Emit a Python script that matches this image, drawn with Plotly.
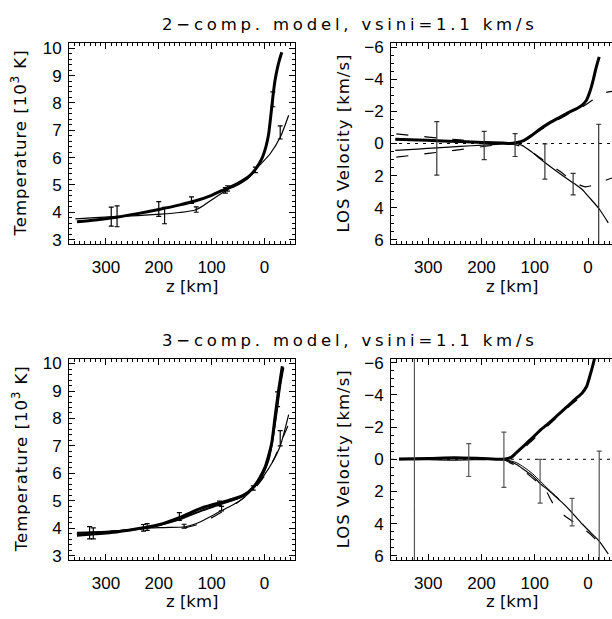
import plotly.graph_objects as go

# ---------------- data ----------------
# 2-comp model, temperature
z_t2_c1 = [355, 320, 280, 240, 200, 160, 130, 100, 75, 50, 30, 17, 5, -3, -8, -12, -16, -20, -25, -29, -33]
T_t2_c1 = [3.65, 3.72, 3.82, 3.95, 4.10, 4.27, 4.42, 4.62, 4.84, 5.06, 5.3, 5.57, 5.95, 6.4, 6.85, 7.5, 8.2, 8.8, 9.3, 9.6, 9.85]
z_t2_c2 = [358, 320, 286, 240, 197, 160, 131, 115, 100, 74, 50, 30, 21, 8, -11, -30, -46]
T_t2_c2 = [3.76, 3.8, 3.84, 3.88, 3.93, 3.99, 4.08, 4.25, 4.45, 4.78, 5.0, 5.25, 5.45, 5.74, 6.14, 6.74, 7.55]
z_t2_e1 = [279, 200, 138, 70, 17, -16]
T_t2_e1 = [3.85, 4.12, 4.44, 4.87, 5.55, 8.13]
d_t2_e1 = [0.38, 0.27, 0.12, 0.1, 0.1, 0.27]
z_t2_e2 = [290, 189, 129, 74, -30]
T_t2_e2 = [3.84, 3.88, 4.1, 4.8, 6.92]
d_t2_e2 = [0.35, 0.3, 0.1, 0.1, 0.24]

# 2-comp model, velocity
z_v2_c1 = [362, 320, 284, 240, 197, 160, 147, 135, 120, 104, 90, 73, 55, 36, 20, 11, 3, -1, -6, -10, -15, -21]
v_v2_c1 = [-0.27, -0.22, -0.17, -0.12, -0.07, -0.03, 0.0, -0.05, -0.2, -0.55, -0.9, -1.27, -1.6, -1.94, -2.2, -2.4, -2.7, -3.0, -3.5, -4.0, -4.7, -5.4]
z_v2_c2 = [362, 320, 284, 240, 197, 160, 140, 125, 104, 90, 73, 50, 26, 10, -1, -20, -38]
v_v2_c2 = [0.43, 0.35, 0.27, 0.18, 0.1, 0.03, 0.0, 0.1, 0.57, 0.95, 1.39, 1.95, 2.5, 2.9, 3.32, 4.04, 4.95]
z_v2_d1 = [360, 300, 240, 180, 150, 120, 100, 75, 50, 25, 5, -10, -20, -30, -45]
v_v2_d1 = [-0.6, -0.4, -0.22, -0.07, 0.0, -0.2, -0.6, -1.15, -1.6, -2.05, -2.4, -2.75, -3.0, -3.15, -3.25]
z_v2_d2 = [360, 300, 240, 180, 150, 120, 100, 75, 50, 30, 15, 5, -10, -25, -45]
v_v2_d2 = [0.85, 0.62, 0.38, 0.12, 0.0, 0.25, 0.65, 1.25, 1.8, 2.35, 2.6, 2.7, 2.6, 2.4, 2.15]
z_v2_e = [284, 195, 137, 81, 28, -20]
v_v2_e = [0.3, 0.12, 0.1, 1.12, 2.53, 2.6]
d_v2_e = [1.67, 0.88, 0.71, 1.1, 0.67, 3.8]

# 3-comp model, temperature
z_t3_c1 = [355, 320, 280, 229, 200, 160, 122, 100, 84, 59, 40, 21, 10, -1, -8, -14, -20, -26, -30, -34]
T_t3_c1 = [3.75, 3.8, 3.87, 4.02, 4.13, 4.4, 4.72, 4.85, 4.93, 5.07, 5.2, 5.49, 5.8, 6.21, 6.65, 7.12, 8.02, 8.9, 9.4, 9.9]
z_t3_c2 = [355, 300, 229, 160, 122, 84, 40, 10, -8, -20, -30, -36]
T_t3_c2 = [3.84, 3.88, 4.0, 4.33, 4.62, 4.88, 5.18, 5.75, 6.5, 7.8, 9.2, 9.85]
z_t3_c3 = [355, 300, 229, 190, 150, 122, 100, 84, 60, 40, 21, 0, -15, -30, -46]
T_t3_c3 = [3.83, 3.88, 4.0, 4.03, 4.06, 4.23, 4.45, 4.62, 4.85, 5.1, 5.45, 5.95, 6.4, 7.0, 8.14]
z_t3_d = [150, 128, 103, 80, 50, 20, 0, -20, -35, -45]
T_t3_d = [4.02, 4.13, 4.35, 4.6, 4.95, 5.42, 5.9, 6.6, 7.3, 7.75]
z_t3_e1 = [324, 222, 161, 85, 21, -25]
T_t3_e1 = [3.82, 4.05, 4.43, 4.91, 5.47, 8.7]
d_t3_e1 = [0.2, 0.12, 0.14, 0.08, 0.08, 0.27]
z_t3_e2 = [331, 229, 152, 81, -30]
T_t3_e2 = [3.84, 4.02, 4.08, 4.72, 7.28]
d_t3_e2 = [0.22, 0.12, 0.07, 0.08, 0.28]

# 3-comp model, velocity
z_v3_c1 = [355, 300, 250, 200, 160, 145, 135, 120, 104, 90, 73, 55, 42, 25, 11, 3, -1, -8, -14]
v_v3_c1 = [-0.02, -0.05, -0.1, -0.05, 0.0, -0.1, -0.4, -0.85, -1.34, -1.8, -2.26, -2.8, -3.19, -3.7, -4.12, -4.5, -4.9, -5.7, -6.5]
z_v3_c2 = [355, 300, 250, 200, 160, 135, 120, 104, 90, 73, 55, 42, 25, 11, -5, -20, -38]
v_v3_c2 = [0.02, 0.03, 0.05, 0.02, 0.0, 0.31, 0.65, 1.03, 1.5, 1.96, 2.5, 2.89, 3.5, 4.02, 4.55, 5.05, 5.88]
z_v3_c3 = [160, 135, 120, 104, 90, 73, 55]
v_v3_c3 = [0.0, 0.2, 0.5, 0.9, 1.35, 1.9, 2.45]
z_v3_d1 = [160, 135, 120, 104, 73, 42, 11, -1, -14]
v_v3_d1 = [0.0, -0.3, -0.7, -1.2, -2.15, -3.1, -4.0, -4.75, -6.5]
z_v3_d2 = [160, 130, 98, 80, 70, 61, 44, 17, -4, -20, -38]
v_v3_d2 = [0.0, 0.5, 1.34, 1.9, 2.5, 3.0, 3.5, 4.12, 4.64, 5.15, 5.46]
z_v3_e = [326, 224, 158, 90, 30, -21]
v_v3_e = [0.0, 0.05, 0.03, 1.36, 3.28, 3.0]
d_v3_e = [8.0, 1.02, 1.72, 1.36, 0.85, 3.5]

titles = ["2\u2212comp. model, vsini=1.1 km/s", "3\u2212comp. model, vsini=1.1 km/s"]

# ---------------- figure ----------------
W, H = 612, 619
fig = go.Figure()

def px_x(p):
    return p / W

def px_y(p):
    return 1 - p / H

def line(x, y, ax, w, dash=None, color="black"):
    fig.add_trace(go.Scatter(x=x, y=y, xaxis="x" + ax, yaxis="y" + ax, mode="lines",
                             line=dict(color=color, width=w, dash=dash, shape="spline", smoothing=0.7),
                             showlegend=False, hoverinfo="skip"))

def errs(x, y, d, ax, color="black"):
    fig.add_trace(go.Scatter(x=x, y=y, xaxis="x" + ax, yaxis="y" + ax, mode="markers",
                             marker=dict(size=1, color="rgba(0,0,0,0)"),
                             error_y=dict(type="data", array=d, color=color, thickness=1.2, width=2.5),
                             showlegend=False, hoverinfo="skip"))

def hline(ax):
    fig.add_trace(go.Scatter(x=[400, -80], y=[0, 0], xaxis="x" + ax, yaxis="y" + ax, mode="lines",
                             line=dict(color="black", width=1, dash="3px,5px"),
                             showlegend=False, hoverinfo="skip"))

LONGDASH = "12px,16px"

# panel 1: 2-comp T
line(z_t2_c2, T_t2_c2, "", 1.2)
line(z_t2_c1, T_t2_c1, "", 3)
errs(z_t2_e1, T_t2_e1, d_t2_e1, "")
errs(z_t2_e2, T_t2_e2, d_t2_e2, "")

# panel 2: 2-comp v
hline("2")
line(z_v2_d1, v_v2_d1, "2", 1.2, LONGDASH)
line(z_v2_d2, v_v2_d2, "2", 1.2, LONGDASH)
line(z_v2_c2, v_v2_c2, "2", 1.2)
line(z_v2_c1, v_v2_c1, "2", 3)
errs(z_v2_e, v_v2_e, d_v2_e, "2", "#333")

# panel 3: 3-comp T
line(z_t3_d, T_t3_d, "3", 1.2, LONGDASH)
line(z_t3_c3, T_t3_c3, "3", 1.2)
line(z_t3_c2, T_t3_c2, "3", 2)
line(z_t3_c1, T_t3_c1, "3", 3)
errs(z_t3_e1, T_t3_e1, d_t3_e1, "3")
errs(z_t3_e2, T_t3_e2, d_t3_e2, "3")

# panel 4: 3-comp v
hline("4")
line(z_v3_d1, v_v3_d1, "4", 1.2, LONGDASH)
line(z_v3_d2, v_v3_d2, "4", 1.2, LONGDASH)
line(z_v3_c3, v_v3_c3, "4", 1)
line(z_v3_c2, v_v3_c2, "4", 1.2)
line(z_v3_c1, v_v3_c1, "4", 3)
errs(z_v3_e, v_v3_e, d_v3_e, "4", "#555")

TICKFONT = dict(family="Liberation Sans", size=17, color="black")

def xax(domain, rng, anchor):
    return dict(domain=domain, range=rng, anchor=anchor, dtick=100, tick0=0,
                ticks="inside", ticklen=6, tickwidth=1, tickcolor="black",
                minor=dict(dtick=10, tick0=0, ticks="inside", ticklen=3, tickwidth=1, tickcolor="black", showgrid=False),
                showline=True, linecolor="black", linewidth=1, mirror="allticks",
                showgrid=False, zeroline=False, tickfont=TICKFONT, ticklabelstandoff=8)

def yax(domain, rng, anchor, dtick, mdtick, mirror="allticks"):
    return dict(domain=domain, range=rng, anchor=anchor, dtick=dtick, tick0=0,
                ticks="inside", ticklen=6, tickwidth=1, tickcolor="black",
                minor=dict(dtick=mdtick, tick0=0, ticks="inside", ticklen=3, tickwidth=1, tickcolor="black", showgrid=False),
                showline=True, linecolor="black", linewidth=1, mirror=mirror,
                showgrid=False, zeroline=False, tickfont=TICKFONT, ticklabelstandoff=3)

XL = [px_x(69), px_x(295)]
XR = [px_x(391), 1.0]
YT = [px_y(243), px_y(39)]
YB = [px_y(565), px_y(360)]
ZR_L = [370, -58]
ZR_R = [370, -45]
TR = [2.85, 10.18]
VR = [6.25, -6.25]

fig.update_layout(
    width=W, height=H, margin=dict(l=0, r=0, t=0, b=0),
    paper_bgcolor="white", plot_bgcolor="white", showlegend=False,
    xaxis=xax(XL, ZR_L, "y"), yaxis=yax(YT, TR, "x", 1, 0.2),
    xaxis2=xax(XR, ZR_R, "y2"), yaxis2=yax(YT, VR, "x2", 2, 0.5, mirror=False),
    xaxis3=xax(XL, ZR_L, "y3"), yaxis3=yax(YB, TR, "x3", 1, 0.2),
    xaxis4=xax(XR, ZR_R, "y4"), yaxis4=yax(YB, VR, "x4", 2, 0.5, mirror=False),
)

LABFONT = dict(family="DejaVu Sans", size=16.5, color="black")
ann = []
def A(text, x, y, angle=0, font=LABFONT):
    ann.append(dict(text=text, x=px_x(x), y=px_y(y), xref="paper", yref="paper",
                    xanchor="center", yanchor="middle", showarrow=False, textangle=angle, font=font))

for (ytop, ybot, ttl, ty, zy) in [(39, 243, titles[0], 20, 287), (360, 565, titles[1], 342, 607)]:
    yc = (ytop + ybot) / 2
    A('<span style="letter-spacing:1px">Temperature [10<sup>3</sup> K]</span>', 20, yc, -90)
    A('<span style="letter-spacing:1px">LOS Velocity [km/s]</span>', 343, yc, -90)
    A("z [km]", 192, zy)
    A("z [km]", 512, zy)
    A('<span style="letter-spacing:3.8px">' + ttl + "</span>", 350, ty)

fig.update_layout(annotations=ann)
fig.write_html("out.html", config={"displayModeBar": False},
               post_script="document.body.style.margin='0';document.body.style.overflow='hidden';")
